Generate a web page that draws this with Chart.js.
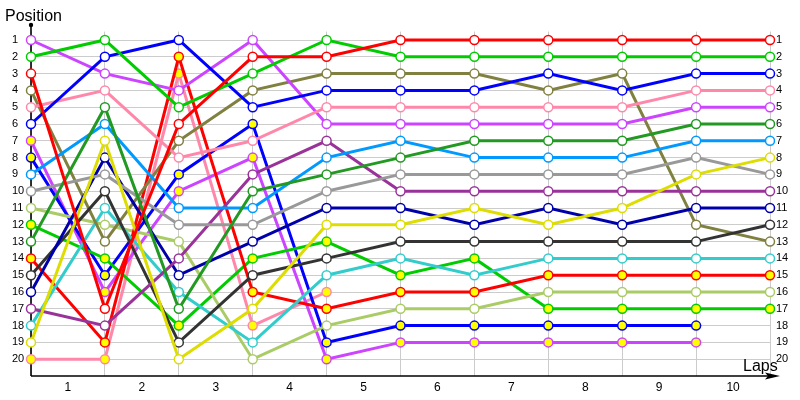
<!DOCTYPE html>
<html>
<head>
<meta charset="utf-8">
<script src="https://cdn.jsdelivr.net/npm/chart.js@4"></script>
<style>
  html, body { margin: 0; padding: 0; background: #fff; }
  #wrap { width: 800px; height: 400px; }
</style>
</head>
<body>
<div id="wrap"><canvas id="lapChart" width="800" height="400"></canvas></div>
<script>
// --- Data: lap grid points, labels and positions ---
const laps = [0, 1, 2, 3, 4, 5, 6, 7, 8, 9, 10];
const lapLabels = ['1', '2', '3', '4', '5', '6', '7', '8', '9', '10'];
const positionTicks = [1, 2, 3, 4, 5, 6, 7, 8, 9, 10, 11, 12, 13, 14, 15, 16, 17, 18, 19, 20];

// position of each driver at every lap line (null = retired)
const redDriver        = [3, 17, 6, 2, 2, 1, 1, 1, 1, 1, 1];
const greenDriver      = [2, 1, 5, 3, 1, 2, 2, 2, 2, 2, 2];
const blueDriver       = [6, 2, 1, 5, 4, 4, 4, 3, 4, 3, 3];
const pinkDriver       = [5, 4, 8, 7, 5, 5, 5, 5, 5, 4, 4];
const violetDriver     = [1, 3, 4, 1, 6, 6, 6, 6, 6, 5, 5];
const darkGreenDriver  = [13, 5, 17, 10, 9, 8, 7, 7, 7, 6, 6];
const skyDriver        = [9, 6, 11, 11, 8, 7, 8, 8, 8, 7, 7];
const yellowDriver     = [19, 7, 20, 17, 12, 12, 11, 12, 11, 9, 8];
const greyDriver       = [10, 9, 12, 12, 10, 9, 9, 9, 9, 8, 9];
const plumDriver       = [17, 18, 14, 9, 7, 10, 10, 10, 10, 10, 10];
const navyDriver       = [16, 8, 15, 13, 11, 11, 12, 11, 12, 11, 11];
const blackDriver      = [15, 10, 19, 15, 14, 13, 13, 13, 13, 13, 12];
const oliveDriver      = [4, 13, 7, 4, 3, 3, 3, 4, 3, 12, 13];
const cyanDriver       = [18, 11, 16, 19, 15, 14, 15, 14, 14, 14, 14];
const red2Driver       = [14, 19, 2, 16, 17, 16, 16, 15, 15, 15, 15];
const limeDriver       = [11, 12, 13, 20, 18, 17, 17, 16, 16, 16, 16];
const green2Driver     = [12, 14, 18, 14, 13, 15, 14, 17, 17, 17, 17];
const blue2Driver      = [8, 15, 9, 6, 19, 18, 18, 18, 18, 18, null];
const violet2Driver    = [7, 16, 10, 8, 20, 19, 19, 19, 19, 19, null];
const pink2Driver      = [20, 20, 3, 18, 16, null, null, null, null, null, null];

// --- Styles ---
const WHITE = '#ffffff';
const YEL = '#ffff00';
const drivers = [
    { pos: redDriver,       color: '#ff0000', fill: WHITE },
    { pos: greenDriver,     color: '#00cc00', fill: WHITE },
    { pos: blueDriver,      color: '#0000ff', fill: WHITE },
    { pos: pinkDriver,      color: '#ff88aa', fill: WHITE },
    { pos: violetDriver,    color: '#cc44ff', fill: WHITE },
    { pos: darkGreenDriver, color: '#229922', fill: WHITE },
    { pos: skyDriver,       color: '#0099ff', fill: WHITE },
    { pos: yellowDriver,    color: '#dddd00', fill: WHITE },
    { pos: greyDriver,      color: '#999999', fill: WHITE },
    { pos: plumDriver,      color: '#993399', fill: WHITE },
    { pos: navyDriver,      color: '#0000aa', fill: WHITE },
    { pos: blackDriver,     color: '#333333', fill: WHITE },
    { pos: oliveDriver,     color: '#808040', fill: WHITE },
    { pos: cyanDriver,      color: '#33cccc', fill: WHITE },
    { pos: red2Driver,      color: '#ff0000', fill: YEL },
    { pos: limeDriver,      color: '#aacc66', fill: WHITE },
    { pos: green2Driver,    color: '#00cc00', fill: YEL },
    { pos: blue2Driver,     color: '#0000ff', fill: YEL },
    { pos: violet2Driver,   color: '#cc44ff', fill: YEL },
    { pos: pink2Driver,     color: '#ff88aa', fill: YEL }
];

const FONT = "'Liberation Sans', Arial, sans-serif";

// axes, arrow and the two captions
const decor = {
    id: 'decor',
    beforeDatasetsDraw(chart) {
        const { ctx, chartArea: a } = chart;
        ctx.save();
        ctx.strokeStyle = '#000';
        ctx.fillStyle = '#000';
        ctx.lineWidth = 1.6;
        // y axis with a dot on top
        ctx.beginPath();
        ctx.moveTo(a.left, a.bottom);
        ctx.lineTo(a.left, 25);
        ctx.stroke();
        ctx.beginPath();
        ctx.arc(a.left, 25, 2.2, 0, Math.PI * 2);
        ctx.fill();
        // x axis with arrow
        ctx.beginPath();
        ctx.moveTo(a.left, a.bottom);
        ctx.lineTo(772, a.bottom);
        ctx.stroke();
        ctx.beginPath();
        ctx.moveTo(780, a.bottom);
        ctx.lineTo(765, a.bottom - 3.5);
        ctx.lineTo(768, a.bottom);
        ctx.lineTo(765, a.bottom + 3.5);
        ctx.closePath();
        ctx.fill();
        ctx.restore();
    },
    afterDraw(chart) {
        const { ctx } = chart;
        ctx.save();
        ctx.fillStyle = '#000';
        ctx.font = '16px ' + FONT;
        ctx.textBaseline = 'alphabetic';
        ctx.textAlign = 'left';
        ctx.fillText('Position', 5, 21);
        ctx.fillText('Laps', 743, 371);
        ctx.restore();
    }
};

const yTicks = (axis) => { axis.ticks = positionTicks.map(v => ({ value: v })); };

new Chart(document.getElementById('lapChart'), {
    type: 'line',
    data: {
        datasets: drivers.map(d => ({
            data: laps.map((x, i) => ({ x: x, y: d.pos[i] })),
            borderColor: d.color,
            backgroundColor: d.fill,
            pointBackgroundColor: d.fill,
            pointBorderColor: d.color,
            pointRadius: 4.5,
            pointBorderWidth: 1.5,
            borderWidth: 3,
            tension: 0,
            spanGaps: false,
            clip: false
        }))
    },
    options: {
        responsive: false,
        animation: false,
        events: [],
        layout: { padding: { left: 12, right: 0, top: 31.6, bottom: 0 } },
        plugins: { legend: { display: false }, tooltip: { enabled: false } },
        scales: {
            x: {
                type: 'linear', min: 0, max: 10, position: 'bottom',
                afterBuildTicks: (axis) => { axis.ticks = laps.map(v => ({ value: v })); },
                afterFit: (axis) => { axis.height = 0; },
                ticks: { display: false },
                grid: { color: '#cccccc', lineWidth: 1, drawTicks: false },
                border: { display: false }
            },
            xl: {
                type: 'linear', min: 0, max: 10, position: 'bottom',
                afterBuildTicks: (axis) => { axis.ticks = lapLabels.map((l, i) => ({ value: i + 0.5 })); },
                afterFit: (axis) => { axis.height = 24; },
                ticks: {
                    callback: (v) => lapLabels[Math.floor(v)],
                    font: { family: FONT, size: 12 }, color: '#000', padding: 4, maxRotation: 0, autoSkip: false
                },
                grid: { display: false, drawTicks: false },
                border: { display: false }
            },
            y: {
                type: 'linear', min: 0.5, max: 21, reverse: true, position: 'left',
                afterBuildTicks: yTicks,
                afterFit: (axis) => { axis.width = 19; },
                ticks: { font: { family: FONT, size: 11 }, color: '#000', crossAlign: 'far', autoSkip: false },
                grid: { color: '#cccccc', lineWidth: 1, drawTicks: false },
                border: { display: false }
            },
            yr: {
                type: 'linear', min: 0.5, max: 21, reverse: true, position: 'right',
                afterBuildTicks: yTicks,
                afterFit: (axis) => { axis.width = 30; },
                ticks: { font: { family: FONT, size: 11 }, color: '#000', padding: 6, autoSkip: false },
                grid: { display: false, drawTicks: false },
                border: { display: false }
            }
        }
    },
    plugins: [decor]
});
</script>
</body>
</html>
